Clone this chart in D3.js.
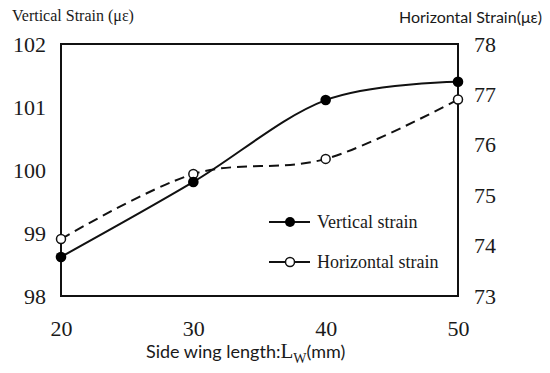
<!DOCTYPE html>
<html>
<head>
<meta charset="utf-8">
<script src="https://cdnjs.cloudflare.com/ajax/libs/d3/7.8.5/d3.min.js"></script>
<style>
body { margin: 0; background: #fff; }
</style>
</head>
<body>
<script>
// data
var wingLength = [20, 30, 40, 50];
var verticalStrain = [98.62, 99.81, 101.11, 101.40];
var horizontalStrain = [74.13, 75.42, 75.72, 76.90];
var leftTicks = [98, 99, 100, 101, 102];
var rightTicks = [73, 74, 75, 76, 77, 78];
var seriesNames = ["Vertical strain", "Horizontal strain"];

var SERIF = '"Liberation Serif", "Times New Roman", serif';
var SANS = 'Lato, "Open Sans", sans-serif';

var width = 550, height = 373;
var margin = { left: 61, right: 92, top: 44, bottom: 77 };

var svg = d3.select("body").append("svg")
	.attr("width", width)
	.attr("height", height);

var x = d3.scaleLinear().domain([20, 50]).range([margin.left, width - margin.right]);
var yL = d3.scaleLinear().domain([98, 102]).range([height - margin.bottom, margin.top]);
var yR = d3.scaleLinear().domain([73, 78]).range([height - margin.bottom, margin.top]);

// axes (labels only, frame drawn separately)
var axL = svg.append("g")
	.attr("transform", "translate(" + margin.left + ",0)")
	.call(d3.axisLeft(yL).tickValues(leftTicks).tickFormat(d3.format("d")).tickSize(0).tickPadding(15));
var axR = svg.append("g")
	.attr("transform", "translate(" + (width - margin.right) + ",0)")
	.call(d3.axisRight(yR).tickValues(rightTicks).tickFormat(d3.format("d")).tickSize(0).tickPadding(16));
var axB = svg.append("g")
	.attr("transform", "translate(0," + (height - margin.bottom) + ")")
	.call(d3.axisBottom(x).tickValues(wingLength).tickFormat(d3.format("d")).tickSize(0).tickPadding(24));

[axL, axR, axB].forEach(function(g) {
	g.select(".domain").remove();
	g.attr("font-family", null).attr("font-size", null);
	g.selectAll("text")
		.style("font-family", SERIF)
		.style("font-size", "22px")
		.style("fill", "#1a1a1a");
});

// frame
svg.append("rect")
	.attr("x", margin.left)
	.attr("y", margin.top)
	.attr("width", width - margin.left - margin.right)
	.attr("height", height - margin.top - margin.bottom)
	.style("fill", "none")
	.style("stroke", "#111")
	.style("stroke-width", 2);

var pts = wingLength.map(function(d, i) { return { x: d, v: verticalStrain[i], h: horizontalStrain[i] }; });

var lineV = d3.line().x(function(d) { return x(d.x); }).y(function(d) { return yL(d.v); })
	.curve(d3.curveCardinal.tension(0));
var lineH = d3.line().x(function(d) { return x(d.x); }).y(function(d) { return yR(d.h); })
	.curve(d3.curveCardinal.tension(0));

svg.append("path")
	.attr("d", lineH(pts))
	.style("fill", "none")
	.style("stroke", "#111")
	.style("stroke-width", 2)
	.style("stroke-dasharray", "10,6");

svg.append("path")
	.attr("d", lineV(pts))
	.style("fill", "none")
	.style("stroke", "#111")
	.style("stroke-width", 2);

svg.selectAll(".dotH")
	.data(pts)
	.enter()
	.append("circle")
		.attr("cx", function(d) { return x(d.x); })
		.attr("cy", function(d) { return yR(d.h); })
		.attr("r", 4.5)
		.style("fill", "#fff")
		.style("stroke", "#111")
		.style("stroke-width", 1.5);

svg.selectAll(".dotV")
	.data(pts)
	.enter()
	.append("circle")
		.attr("cx", function(d) { return x(d.x); })
		.attr("cy", function(d) { return yL(d.v); })
		.attr("r", 5.3)
		.style("fill", "#000");

// legend
var legend = svg.selectAll(".legend")
	.data(seriesNames)
	.enter()
	.append("g")
		.attr("transform", function(d, i) { return "translate(269," + (222 + i * 40) + ")"; });
legend.append("line")
	.attr("x1", 0).attr("x2", 41)
	.style("stroke", "#111")
	.style("stroke-width", 2);
legend.append("circle")
	.attr("cx", 21)
	.attr("r", function(d, i) { return i == 0 ? 5 : 4.5; })
	.style("fill", function(d, i) { return i == 0 ? "#000" : "#fff"; })
	.style("stroke", "#111")
	.style("stroke-width", function(d, i) { return i == 0 ? 0 : 1.5; });
legend.append("text")
	.attr("x", 48)
	.attr("y", 6)
	.style("font-family", SERIF)
	.style("font-size", "18px")
	.style("fill", "#1a1a1a")
	.text(function(d) { return d; });

// axis titles
svg.append("text")
	.attr("x", 12)
	.attr("y", 21)
	.style("font-family", SERIF)
	.style("font-size", "16px")
	.style("fill", "#1a1a1a")
	.text("Vertical Strain (με)");

svg.append("text")
	.attr("x", 542)
	.attr("y", 23)
	.attr("text-anchor", "end")
	.style("font-family", SANS)
	.style("font-size", "16px")
	.style("fill", "#1a1a1a")
	.text("Horizontal Strain(με)");

var xt = svg.append("text")
	.attr("x", 146)
	.attr("y", 358)
	.style("fill", "#1a1a1a");
xt.append("tspan").style("font-family", SANS).style("font-size", "18px").text("Side wing length:");
xt.append("tspan").style("font-family", SERIF).style("font-size", "21px").text("L");
xt.append("tspan").style("font-family", SERIF).style("font-size", "14px").attr("dy", 5).text("W");
xt.append("tspan").style("font-family", SANS).style("font-size", "18px").attr("dy", -5).text("(mm)");
</script>
</body>
</html>
